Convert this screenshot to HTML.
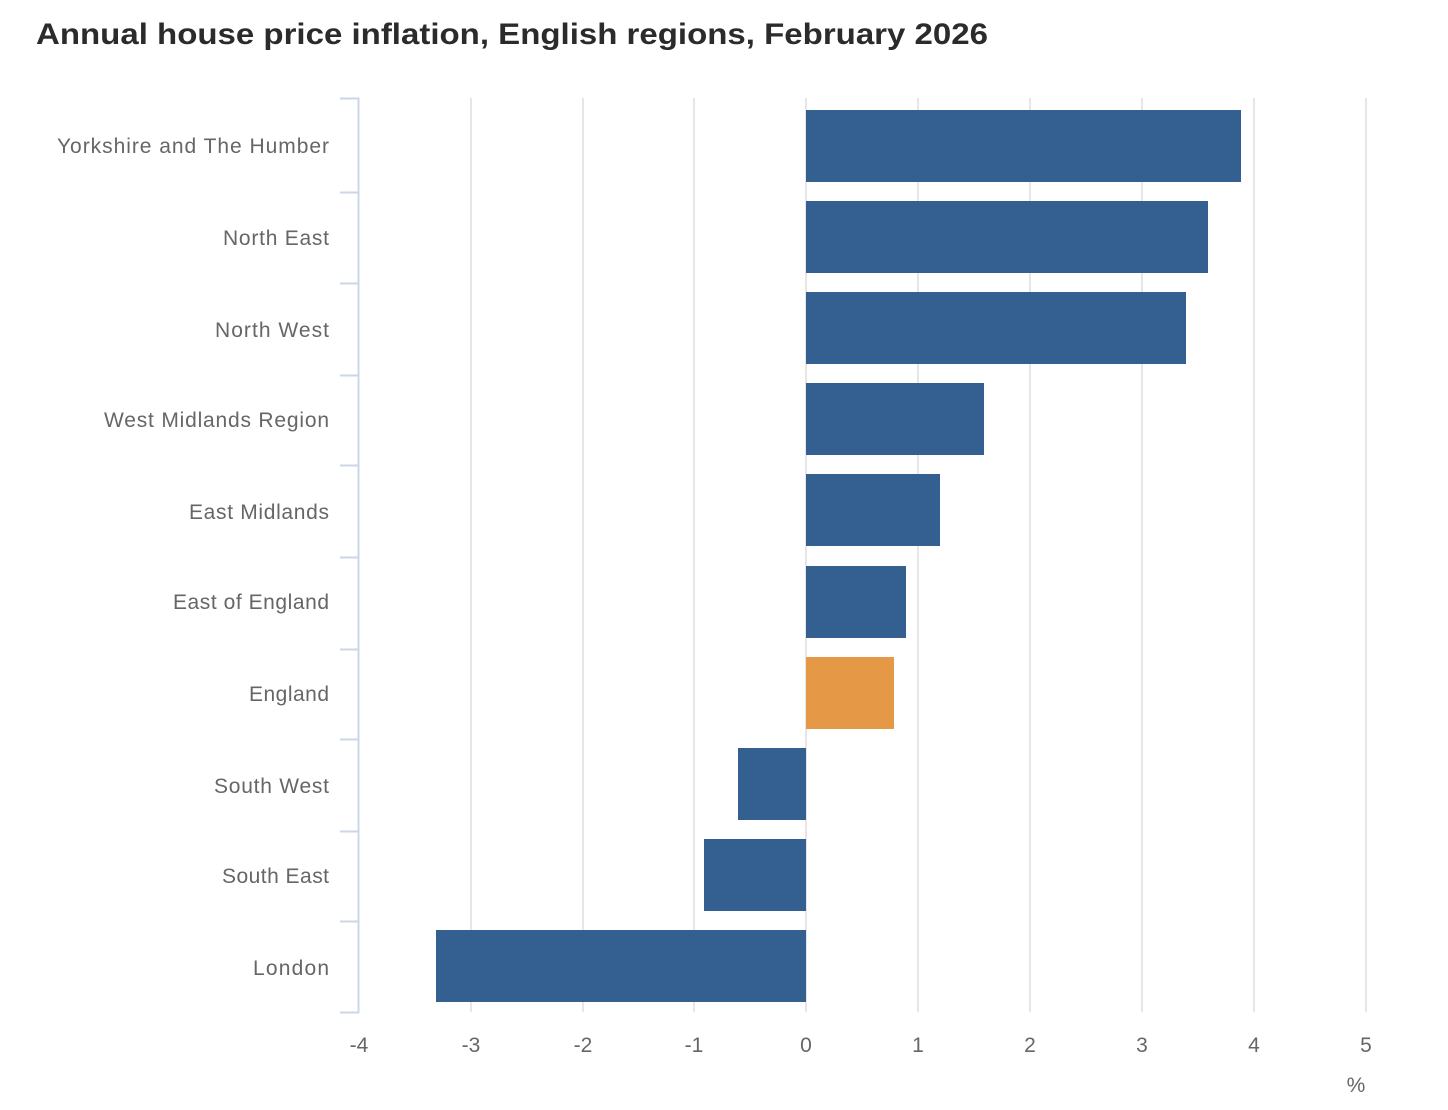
<!DOCTYPE html>
<html><head><meta charset="utf-8"><style>
html,body{margin:0;padding:0;background:#fff;}
svg{display:block;font-family:"Liberation Sans",sans-serif;}
</style></head><body>
<svg width="1448" height="1110" viewBox="0 0 1448 1110" xmlns="http://www.w3.org/2000/svg">
<text x="36" y="44" font-size="30" font-weight="bold" fill="#2b2b2b" textLength="952" lengthAdjust="spacingAndGlyphs">Annual house price inflation, English regions, February 2026</text>
<g stroke="#e6e6e6" stroke-width="2">
<line x1="471" y1="98" x2="471" y2="1012"/>
<line x1="583" y1="98" x2="583" y2="1012"/>
<line x1="694" y1="98" x2="694" y2="1012"/>
<line x1="806" y1="98" x2="806" y2="1012"/>
<line x1="918" y1="98" x2="918" y2="1012"/>
<line x1="1030" y1="98" x2="1030" y2="1012"/>
<line x1="1142" y1="98" x2="1142" y2="1012"/>
<line x1="1254" y1="98" x2="1254" y2="1012"/>
<line x1="1366" y1="98" x2="1366" y2="1012"/>
</g>
<g fill="#336090">
<rect x="806" y="110" width="435" height="72"/>
<rect x="806" y="201" width="402" height="72"/>
<rect x="806" y="292" width="380" height="72"/>
<rect x="806" y="383" width="178" height="72"/>
<rect x="806" y="474" width="134" height="72"/>
<rect x="806" y="566" width="100" height="72"/>
<rect x="738" y="748" width="68" height="72"/>
<rect x="704" y="839" width="102" height="72"/>
<rect x="436" y="930" width="370" height="72"/>
</g>
<rect x="806" y="657" width="88" height="72" fill="#e59846"/>
<g stroke="#ccd6eb" stroke-width="2">
<line x1="358.5" y1="98" x2="358.5" y2="1013"/>
<line x1="340" y1="98.5" x2="359" y2="98.5"/>
<line x1="340" y1="192.5" x2="359" y2="192.5"/>
<line x1="340" y1="283.5" x2="359" y2="283.5"/>
<line x1="340" y1="375.5" x2="359" y2="375.5"/>
<line x1="340" y1="465.5" x2="359" y2="465.5"/>
<line x1="340" y1="557.5" x2="359" y2="557.5"/>
<line x1="340" y1="649.5" x2="359" y2="649.5"/>
<line x1="340" y1="739.5" x2="359" y2="739.5"/>
<line x1="340" y1="831.5" x2="359" y2="831.5"/>
<line x1="340" y1="921.5" x2="359" y2="921.5"/>
<line x1="340" y1="1012.5" x2="359" y2="1012.5"/>
</g>
<g font-size="21" fill="#666" text-anchor="end">
<text x="329" y="153" textLength="272">Yorkshire and The Humber</text>
<text x="329" y="245" textLength="106">North East</text>
<text x="329" y="337" textLength="114">North West</text>
<text x="329" y="427" textLength="225">West Midlands Region</text>
<text x="329" y="519" textLength="140">East Midlands</text>
<text x="329" y="609" textLength="156">East of England</text>
<text x="329" y="701" textLength="80">England</text>
<text x="329" y="793" textLength="115">South West</text>
<text x="329" y="883" textLength="107">South East</text>
<text x="329" y="975" textLength="76">London</text>
</g>
<g font-size="21" fill="#666" text-anchor="middle">
<text x="359" y="1052">-4</text>
<text x="471" y="1052">-3</text>
<text x="583" y="1052">-2</text>
<text x="694" y="1052">-1</text>
<text x="806" y="1052">0</text>
<text x="918" y="1052">1</text>
<text x="1030" y="1052">2</text>
<text x="1142" y="1052">3</text>
<text x="1254" y="1052">4</text>
<text x="1366" y="1052">5</text>
<text x="1356" y="1092">%</text>
</g>
</svg>
</body></html>
